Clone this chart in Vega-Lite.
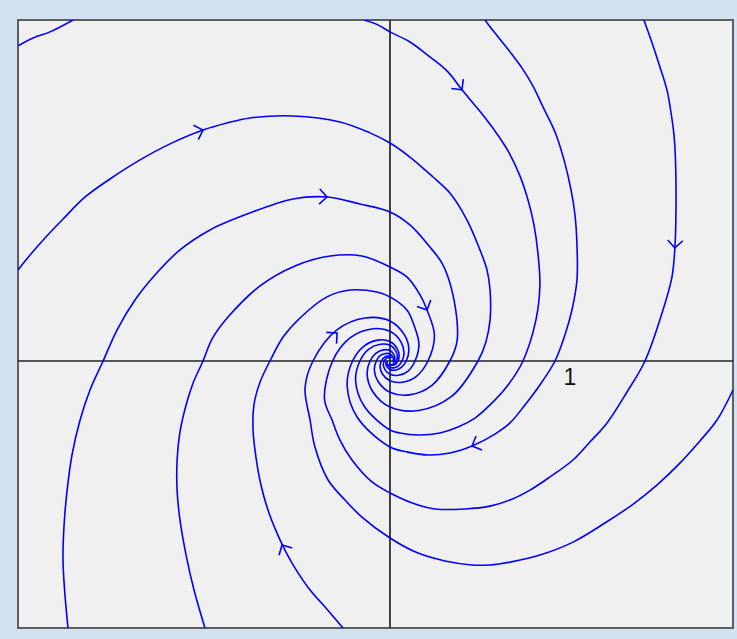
{
  "$schema": "https://vega.github.io/schema/vega-lite/v6.json",
  "width": 715,
  "height": 608,
  "autosize": {"type": "none"},
  "padding": {"left": 18, "top": 20, "right": 4, "bottom": 11},
  "background": "#d3e2f1",
  "view": {"fill": "#f0f0f0", "stroke": "#5e5e5e", "strokeWidth": 2},
  "datasets": {
    "traj": [
      {"c":"A","k":1,"x":-2.067,"y":1.75},{"c":"A","k":2,"x":-1.983,"y":1.794},{"c":"A","k":3,"x":-1.889,"y":1.828},{"c":"A","k":4,"x":-1.761,"y":1.894},

      {"c":"B","k":1,"x":-0.144,"y":1.894},{"c":"B","k":2,"x":-0.067,"y":1.867},{"c":"B","k":3,"x":0,"y":1.828},{"c":"B","k":4,"x":0.111,"y":1.772},{"c":"B","k":5,"x":0.222,"y":1.689},{"c":"B","k":6,"x":0.322,"y":1.606},{"c":"B","k":7,"x":0.4,"y":1.506},{"c":"B","k":8,"x":0.494,"y":1.394},{"c":"B","k":9,"x":0.583,"y":1.278},{"c":"B","k":10,"x":0.656,"y":1.167},{"c":"B","k":11,"x":0.722,"y":1.028},{"c":"B","k":12,"x":0.767,"y":0.894},{"c":"B","k":13,"x":0.8,"y":0.756},{"c":"B","k":14,"x":0.822,"y":0.6},{"c":"B","k":15,"x":0.833,"y":0.422},{"c":"B","k":16,"x":0.811,"y":0.228},{"c":"B","k":17,"x":0.739,"y":0},{"c":"B","k":18,"x":0.656,"y":-0.133},{"c":"B","k":19,"x":0.556,"y":-0.244},{"c":"B","k":20,"x":0.472,"y":-0.317},{"c":"B","k":21,"x":0.378,"y":-0.367},{"c":"B","k":22,"x":0.278,"y":-0.4},{"c":"B","k":23,"x":0.156,"y":-0.411},{"c":"B","k":24,"x":0.056,"y":-0.4},{"c":"B","k":25,"x":0,"y":-0.383},{"c":"B","k":26,"x":-0.144,"y":-0.25},{"c":"B","k":27,"x":-0.191,"y":-0.11},{"c":"B","k":28,"x":-0.167,"y":0},{"c":"B","k":29,"x":-0.116,"y":0.067},{"c":"B","k":30,"x":-0.054,"y":0.093},{"c":"B","k":31,"x":0,"y":0.087},{"c":"B","k":32,"x":0.032,"y":0.056},{"c":"B","k":33,"x":0.041,"y":0.024},{"c":"B","k":34,"x":0.035,"y":0},{"c":"B","k":35,"x":0.024,"y":-0.014},{"c":"B","k":36,"x":0.011,"y":-0.019},{"c":"B","k":37,"x":0,"y":-0.018},

      {"c":"C","k":1,"x":0.528,"y":1.894},{"c":"C","k":2,"x":0.556,"y":1.856},{"c":"C","k":3,"x":0.667,"y":1.717},{"c":"C","k":4,"x":0.733,"y":1.628},{"c":"C","k":5,"x":0.794,"y":1.528},{"c":"C","k":6,"x":0.85,"y":1.411},{"c":"C","k":7,"x":0.917,"y":1.272},{"c":"C","k":8,"x":0.967,"y":1.117},{"c":"C","k":9,"x":1.006,"y":0.95},{"c":"C","k":10,"x":1.028,"y":0.811},{"c":"C","k":11,"x":1.039,"y":0.644},{"c":"C","k":12,"x":1.039,"y":0.45},{"c":"C","k":13,"x":1.011,"y":0.283},{"c":"C","k":14,"x":0.972,"y":0.144},{"c":"C","k":15,"x":0.917,"y":0},{"c":"C","k":16,"x":0.833,"y":-0.133},{"c":"C","k":17,"x":0.75,"y":-0.244},{"c":"C","k":18,"x":0.667,"y":-0.344},{"c":"C","k":19,"x":0.583,"y":-0.406},{"c":"C","k":20,"x":0.456,"y":-0.472},{"c":"C","k":21,"x":0.333,"y":-0.511},{"c":"C","k":22,"x":0.211,"y":-0.522},{"c":"C","k":23,"x":0.1,"y":-0.506},{"c":"C","k":24,"x":0,"y":-0.478},{"c":"C","k":25,"x":-0.181,"y":-0.314},{"c":"C","k":26,"x":-0.238,"y":-0.137},{"c":"C","k":27,"x":-0.208,"y":0},{"c":"C","k":28,"x":-0.144,"y":0.083},{"c":"C","k":29,"x":-0.067,"y":0.116},{"c":"C","k":30,"x":0,"y":0.108},{"c":"C","k":31,"x":0.04,"y":0.069},{"c":"C","k":32,"x":0.051,"y":0.029},{"c":"C","k":33,"x":0.044,"y":0},{"c":"C","k":34,"x":0.031,"y":-0.018},{"c":"C","k":35,"x":0.014,"y":-0.024},{"c":"C","k":36,"x":0,"y":-0.023},{"c":"C","k":37,"x":-0.008,"y":-0.015},

      {"c":"D","k":1,"x":1.411,"y":1.894},{"c":"D","k":2,"x":1.456,"y":1.767},{"c":"D","k":3,"x":1.5,"y":1.633},{"c":"D","k":4,"x":1.539,"y":1.506},{"c":"D","k":5,"x":1.561,"y":1.383},{"c":"D","k":6,"x":1.578,"y":1.256},{"c":"D","k":7,"x":1.586,"y":1.128},{"c":"D","k":8,"x":1.589,"y":0.822},{"c":"D","k":9,"x":1.583,"y":0.628},{"c":"D","k":10,"x":1.567,"y":0.467},{"c":"D","k":11,"x":1.517,"y":0.283},{"c":"D","k":12,"x":1.417,"y":0},{"c":"D","k":13,"x":1.317,"y":-0.172},{"c":"D","k":14,"x":1.206,"y":-0.344},{"c":"D","k":15,"x":1.111,"y":-0.45},{"c":"D","k":16,"x":1.017,"y":-0.55},{"c":"D","k":17,"x":0.889,"y":-0.644},{"c":"D","k":18,"x":0.778,"y":-0.717},{"c":"D","k":19,"x":0.667,"y":-0.772},{"c":"D","k":20,"x":0.556,"y":-0.806},{"c":"D","k":21,"x":0.417,"y":-0.822},{"c":"D","k":22,"x":0.25,"y":-0.822},{"c":"D","k":23,"x":0.156,"y":-0.8},{"c":"D","k":24,"x":0,"y":-0.733},{"c":"D","k":25,"x":-0.1,"y":-0.672},{"c":"D","k":26,"x":-0.211,"y":-0.55},{"c":"D","k":27,"x":-0.278,"y":-0.439},{"c":"D","k":28,"x":-0.322,"y":-0.328},{"c":"D","k":29,"x":-0.364,"y":-0.211},{"c":"D","k":30,"x":-0.319,"y":0},{"c":"D","k":31,"x":-0.222,"y":0.128},{"c":"D","k":32,"x":-0.103,"y":0.178},{"c":"D","k":33,"x":0,"y":0.165},{"c":"D","k":34,"x":0.061,"y":0.106},{"c":"D","k":35,"x":0.078,"y":0.045},{"c":"D","k":36,"x":0.067,"y":0},{"c":"D","k":37,"x":0.047,"y":-0.027},{"c":"D","k":38,"x":0.022,"y":-0.038},{"c":"D","k":39,"x":0,"y":-0.035},{"c":"D","k":40,"x":-0.013,"y":-0.023},{"c":"D","k":41,"x":-0.017,"y":-0.01},{"c":"D","k":42,"x":-0.015,"y":0},

      {"c":"E","k":1,"x":1.906,"y":-0.161},{"c":"E","k":2,"x":1.817,"y":-0.328},{"c":"E","k":3,"x":1.722,"y":-0.444},{"c":"E","k":4,"x":1.611,"y":-0.567},{"c":"E","k":5,"x":1.483,"y":-0.689},{"c":"E","k":6,"x":1.344,"y":-0.8},{"c":"E","k":7,"x":1.194,"y":-0.9},{"c":"E","k":8,"x":1.017,"y":-1.006},{"c":"E","k":9,"x":0.833,"y":-1.078},{"c":"E","k":10,"x":0.667,"y":-1.117},{"c":"E","k":11,"x":0.556,"y":-1.133},{"c":"E","k":12,"x":0.456,"y":-1.133},{"c":"E","k":13,"x":0.306,"y":-1.111},{"c":"E","k":14,"x":0.156,"y":-1.067},{"c":"E","k":15,"x":0,"y":-0.983},{"c":"E","k":16,"x":-0.156,"y":-0.867},{"c":"E","k":17,"x":-0.25,"y":-0.772},{"c":"E","k":18,"x":-0.344,"y":-0.661},{"c":"E","k":19,"x":-0.417,"y":-0.478},{"c":"E","k":20,"x":-0.444,"y":-0.328},{"c":"E","k":21,"x":-0.472,"y":-0.15},{"c":"E","k":22,"x":-0.428,"y":0},{"c":"E","k":23,"x":-0.297,"y":0.172},{"c":"E","k":24,"x":-0.138,"y":0.239},{"c":"E","k":25,"x":0,"y":0.222},{"c":"E","k":26,"x":0.082,"y":0.142},{"c":"E","k":27,"x":0.105,"y":0.061},{"c":"E","k":28,"x":0.09,"y":0},{"c":"E","k":29,"x":0.063,"y":-0.036},{"c":"E","k":30,"x":0.029,"y":-0.051},{"c":"E","k":31,"x":0,"y":-0.047},{"c":"E","k":32,"x":-0.018,"y":-0.031},{"c":"E","k":33,"x":-0.023,"y":-0.013},{"c":"E","k":34,"x":-0.02,"y":0},

      {"c":"F","k":1,"x":-0.261,"y":-1.483},{"c":"F","k":2,"x":-0.356,"y":-1.372},{"c":"F","k":3,"x":-0.444,"y":-1.272},{"c":"F","k":4,"x":-0.517,"y":-1.167},{"c":"F","k":5,"x":-0.578,"y":-1.061},{"c":"F","k":6,"x":-0.628,"y":-0.956},{"c":"F","k":7,"x":-0.678,"y":-0.828},{"c":"F","k":8,"x":-0.717,"y":-0.689},{"c":"F","k":9,"x":-0.744,"y":-0.539},{"c":"F","k":10,"x":-0.761,"y":-0.383},{"c":"F","k":11,"x":-0.756,"y":-0.244},{"c":"F","k":12,"x":-0.722,"y":-0.117},{"c":"F","k":13,"x":-0.667,"y":0},{"c":"F","k":14,"x":-0.594,"y":0.133},{"c":"F","k":15,"x":-0.5,"y":0.239},{"c":"F","k":16,"x":-0.35,"y":0.356},{"c":"F","k":17,"x":-0.222,"y":0.394},{"c":"F","k":18,"x":-0.072,"y":0.383},{"c":"F","k":19,"x":0,"y":0.356},{"c":"F","k":20,"x":0.094,"y":0.283},{"c":"F","k":21,"x":0.133,"y":0.2},{"c":"F","k":22,"x":0.161,"y":0.094},{"c":"F","k":23,"x":0.139,"y":0},{"c":"F","k":24,"x":0.099,"y":-0.057},{"c":"F","k":25,"x":0.046,"y":-0.079},{"c":"F","k":26,"x":0,"y":-0.074},{"c":"F","k":27,"x":-0.028,"y":-0.048},{"c":"F","k":28,"x":-0.037,"y":-0.021},{"c":"F","k":29,"x":-0.032,"y":0},{"c":"F","k":30,"x":-0.022,"y":0.013},{"c":"F","k":31,"x":-0.011,"y":0.018},{"c":"F","k":32,"x":0,"y":0.017},

      {"c":"G","k":1,"x":-1.028,"y":-1.483},{"c":"G","k":2,"x":-1.089,"y":-1.272},{"c":"G","k":3,"x":-1.133,"y":-1.078},{"c":"G","k":4,"x":-1.167,"y":-0.883},{"c":"G","k":5,"x":-1.183,"y":-0.717},{"c":"G","k":6,"x":-1.183,"y":-0.55},{"c":"G","k":7,"x":-1.167,"y":-0.394},{"c":"G","k":8,"x":-1.133,"y":-0.244},{"c":"G","k":9,"x":-1.094,"y":-0.122},{"c":"G","k":10,"x":-1.039,"y":0},{"c":"G","k":11,"x":-0.989,"y":0.122},{"c":"G","k":12,"x":-0.9,"y":0.244},{"c":"G","k":13,"x":-0.722,"y":0.417},{"c":"G","k":14,"x":-0.528,"y":0.528},{"c":"G","k":15,"x":-0.333,"y":0.583},{"c":"G","k":16,"x":-0.156,"y":0.583},{"c":"G","k":17,"x":0,"y":0.522},{"c":"G","k":18,"x":0.094,"y":0.467},{"c":"G","k":19,"x":0.167,"y":0.367},{"c":"G","k":20,"x":0.206,"y":0.283},{"c":"G","k":21,"x":0.247,"y":0.143},{"c":"G","k":22,"x":0.211,"y":0},{"c":"G","k":23,"x":0.147,"y":-0.085},{"c":"G","k":24,"x":0.068,"y":-0.118},{"c":"G","k":25,"x":0,"y":-0.11},{"c":"G","k":26,"x":-0.042,"y":-0.072},{"c":"G","k":27,"x":-0.055,"y":-0.032},{"c":"G","k":28,"x":-0.048,"y":0},{"c":"G","k":29,"x":-0.033,"y":0.019},{"c":"G","k":30,"x":-0.016,"y":0.027},{"c":"G","k":31,"x":0,"y":0.025},{"c":"G","k":32,"x":0.009,"y":0.016},

      {"c":"H","k":1,"x":-1.789,"y":-1.483},{"c":"H","k":2,"x":-1.806,"y":-1.3},{"c":"H","k":3,"x":-1.817,"y":-1.106},{"c":"H","k":4,"x":-1.811,"y":-0.911},{"c":"H","k":5,"x":-1.794,"y":-0.717},{"c":"H","k":6,"x":-1.767,"y":-0.522},{"c":"H","k":7,"x":-1.722,"y":-0.328},{"c":"H","k":8,"x":-1.667,"y":-0.161},{"c":"H","k":9,"x":-1.594,"y":0},{"c":"H","k":10,"x":-1.517,"y":0.172},{"c":"H","k":11,"x":-1.417,"y":0.339},{"c":"H","k":12,"x":-1.306,"y":0.478},{"c":"H","k":13,"x":-1.167,"y":0.617},{"c":"H","k":14,"x":-1.0,"y":0.728},{"c":"H","k":15,"x":-0.778,"y":0.822},{"c":"H","k":16,"x":-0.539,"y":0.9},{"c":"H","k":17,"x":-0.35,"y":0.911},{"c":"H","k":18,"x":-0.167,"y":0.872},{"c":"H","k":19,"x":0,"y":0.828},{"c":"H","k":20,"x":0.111,"y":0.756},{"c":"H","k":21,"x":0.222,"y":0.633},{"c":"H","k":22,"x":0.289,"y":0.544},{"c":"H","k":23,"x":0.333,"y":0.433},{"c":"H","k":24,"x":0.372,"y":0.228},{"c":"H","k":25,"x":0.372,"y":0.106},{"c":"H","k":26,"x":0.333,"y":0},{"c":"H","k":27,"x":0.233,"y":-0.135},{"c":"H","k":28,"x":0.108,"y":-0.188},{"c":"H","k":29,"x":0,"y":-0.174},{"c":"H","k":30,"x":-0.066,"y":-0.114},{"c":"H","k":31,"x":-0.087,"y":-0.05},{"c":"H","k":32,"x":-0.076,"y":0},{"c":"H","k":33,"x":-0.053,"y":0.031},{"c":"H","k":34,"x":-0.024,"y":0.042},{"c":"H","k":35,"x":0,"y":0.039},{"c":"H","k":36,"x":0.014,"y":0.025},{"c":"H","k":37,"x":0.019,"y":0.011},{"c":"H","k":38,"x":0.016,"y":0},

      {"c":"I","k":1,"x":-2.067,"y":0.506},{"c":"I","k":2,"x":-2.0,"y":0.589},{"c":"I","k":3,"x":-1.917,"y":0.683},{"c":"I","k":4,"x":-1.822,"y":0.783},{"c":"I","k":5,"x":-1.694,"y":0.911},{"c":"I","k":6,"x":-1.556,"y":1.011},{"c":"I","k":7,"x":-1.389,"y":1.117},{"c":"I","k":8,"x":-1.222,"y":1.206},{"c":"I","k":9,"x":-1.039,"y":1.283},{"c":"I","k":10,"x":-0.906,"y":1.322},{"c":"I","k":11,"x":-0.778,"y":1.35},{"c":"I","k":12,"x":-0.539,"y":1.361},{"c":"I","k":13,"x":-0.278,"y":1.328},{"c":"I","k":14,"x":-0.111,"y":1.267},{"c":"I","k":15,"x":0,"y":1.211},{"c":"I","k":16,"x":0.111,"y":1.133},{"c":"I","k":17,"x":0.239,"y":1.022},{"c":"I","k":18,"x":0.333,"y":0.933},{"c":"I","k":19,"x":0.428,"y":0.783},{"c":"I","k":20,"x":0.5,"y":0.617},{"c":"I","k":21,"x":0.539,"y":0.506},{"c":"I","k":22,"x":0.556,"y":0.394},{"c":"I","k":23,"x":0.556,"y":0.228},{"c":"I","k":24,"x":0.533,"y":0.106},{"c":"I","k":25,"x":0.489,"y":0},{"c":"I","k":26,"x":0.342,"y":-0.197},{"c":"I","k":27,"x":0.159,"y":-0.275},{"c":"I","k":28,"x":0,"y":-0.256},{"c":"I","k":29,"x":-0.097,"y":-0.168},{"c":"I","k":30,"x":-0.127,"y":-0.073},{"c":"I","k":31,"x":-0.111,"y":0},{"c":"I","k":32,"x":-0.077,"y":0.044},{"c":"I","k":33,"x":-0.036,"y":0.062},{"c":"I","k":34,"x":0,"y":0.058},{"c":"I","k":35,"x":0.021,"y":0.037},{"c":"I","k":36,"x":0.027,"y":0.016},{"c":"I","k":37,"x":0.023,"y":0},{"c":"I","k":38,"x":0.016,"y":-0.009}
    ],
    "arrows": [
      {"c":"B","x":0.4,"y":1.506,"dir":52},
      {"c":"D","x":1.583,"y":0.628,"dir":93},
      {"c":"C","x":0.456,"y":-0.472,"dir":157},
      {"c":"F","x":-0.6,"y":-1.022,"dir":241},
      {"c":"I","x":-1.039,"y":1.283,"dir":341},
      {"c":"H","x":-0.35,"y":0.911,"dir":3},
      {"c":"G","x":0.206,"y":0.283,"dir":65},
      {"c":"E","x":-0.294,"y":0.156,"dir":318}
    ]
  },
  "layer": [
    {
      "data": {"values": [{"v": 0}]},
      "mark": {"type": "rule", "color": "#222222", "strokeWidth": 1.7},
      "encoding": {
        "x": {"field": "v", "type": "quantitative", "axis": null, "scale": {"domain": [-2.067, 1.906], "nice": false, "zero": false}}
      }
    },
    {
      "data": {"values": [{"v": 0}]},
      "mark": {"type": "rule", "color": "#222222", "strokeWidth": 1.7},
      "encoding": {
        "y": {"field": "v", "type": "quantitative", "axis": null, "scale": {"domain": [-1.483, 1.894], "nice": false, "zero": false}}
      }
    },
    {
      "data": {"name": "traj"},
      "mark": {"type": "line", "color": "#0000ff", "strokeWidth": 1.6, "interpolate": "catmull-rom", "clip": true},
      "encoding": {
        "x": {"field": "x", "type": "quantitative", "axis": null, "scale": {"domain": [-2.067, 1.906], "nice": false, "zero": false}},
        "y": {"field": "y", "type": "quantitative", "axis": null, "scale": {"domain": [-1.483, 1.894], "nice": false, "zero": false}},
        "detail": {"field": "c"},
        "order": {"field": "k", "type": "quantitative"}
      }
    },
    {
      "data": {"name": "arrows"},
      "mark": {"type": "point", "shape": "M-1,-1L0,0L-1,1", "filled": false, "color": "#0000ff", "strokeWidth": 1.6, "size": 230, "opacity": 1},
      "encoding": {
        "x": {"field": "x", "type": "quantitative", "axis": null},
        "y": {"field": "y", "type": "quantitative", "axis": null},
        "angle": {"field": "dir", "type": "quantitative", "scale": null}
      }
    },
    {
      "data": {"values": [{"x": 1, "y": 0, "label": "1"}]},
      "mark": {"type": "text", "dy": 17, "fontSize": 23, "font": "Liberation Sans", "color": "#111111", "align": "center", "baseline": "middle"},
      "encoding": {
        "x": {"field": "x", "type": "quantitative", "axis": null},
        "y": {"field": "y", "type": "quantitative", "axis": null},
        "text": {"field": "label"}
      }
    }
  ]
}
